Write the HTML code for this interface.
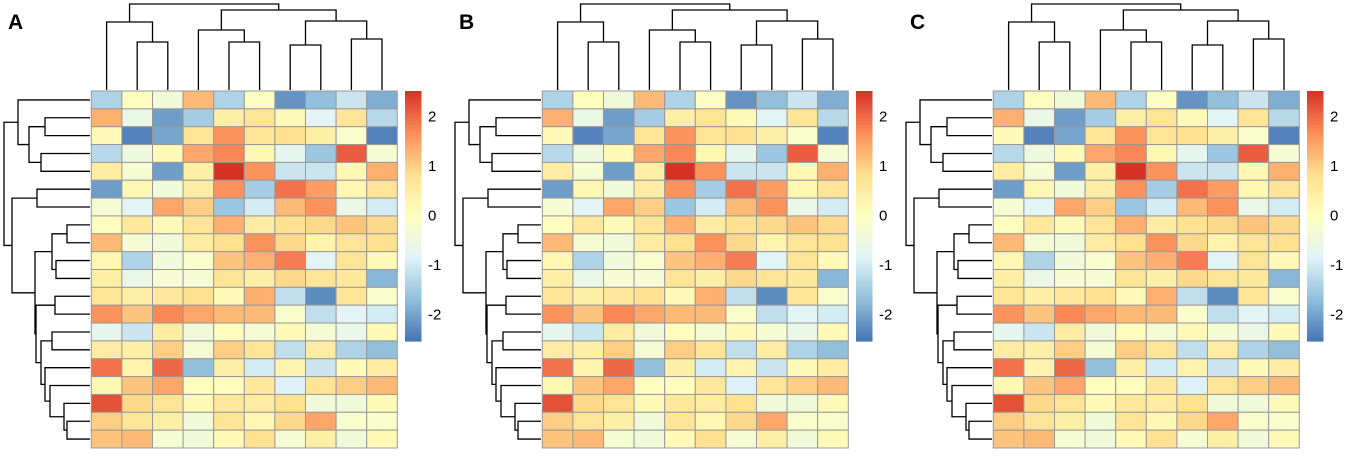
<!DOCTYPE html>
<html><head><meta charset="utf-8"><style>
html,body{margin:0;padding:0;background:#fff;width:1355px;height:457px;overflow:hidden}
svg{display:block;font-family:"Liberation Sans",Arial,sans-serif}
</style></head><body>
<svg id="chart" width="1355" height="457" viewBox="0 0 1355 457"></svg>
<script>
const values = [
[-1.4,0.0,-0.4,1.2,-1.4,-0.1,-2.2,-1.7,-1.1,-1.9],
[1.3,-0.6,-2.1,-1.5,0.4,0.7,0.1,-0.8,0.7,-1.3],
[0.1,-2.4,-2.0,0.7,1.6,0.7,0.8,0.4,-0.2,-2.4],
[-1.3,-0.5,0.1,1.4,1.7,0.2,-0.7,-1.6,2.1,-0.3],
[0.5,-0.3,-2.1,0.4,2.5,1.6,-1.1,-1.1,0.2,1.3],
[-2.1,0.2,-0.4,0.5,1.6,-1.5,1.9,1.5,0.2,0.7],
[-0.3,-0.8,1.4,1.0,-1.6,-1.0,1.2,1.6,-0.6,-1.0],
[0.0,0.6,0.1,0.7,1.3,0.5,0.8,0.9,1.1,0.9],
[1.2,-0.3,-0.4,0.5,0.8,1.6,0.9,0.3,0.7,0.8],
[0.2,-1.4,-0.4,-0.2,1.1,1.3,1.8,-0.8,0.7,0.1],
[0.4,-0.6,-0.3,-0.3,0.7,0.4,0.9,0.7,0.6,-1.8],
[0.7,0.4,0.6,0.8,0.1,1.3,-1.2,-2.3,0.7,-0.2],
[1.6,1.1,1.7,1.4,1.2,1.2,-0.2,-1.2,-0.8,-1.0],
[-0.7,-1.1,0.5,-0.4,0.0,-0.3,0.1,-0.3,-0.6,0.1],
[0.5,0.4,1.0,-0.3,1.0,0.7,-1.2,0.5,-1.4,-1.7],
[1.9,0.3,2.0,-1.7,0.4,-1.0,0.3,-1.1,0.1,0.5],
[0.2,1.1,1.4,0.0,0.0,0.6,-0.9,0.7,1.0,1.2],
[2.2,0.9,0.7,0.1,0.6,0.5,0.8,-0.4,-0.4,0.1],
[1.0,0.7,0.4,-0.4,0.7,0.2,0.9,1.4,-0.2,-0.2],
[1.1,1.2,-0.3,-0.4,0.1,0.8,-0.3,0.4,-0.4,0.1]
];
const panelLabels = ["A","B","C"];
const legendTicks = [2,1,0,-1,-2];
const vmin = -2.55, vmax = 2.5;
// dendrogram trees: [left, right, height]; leaves are indices
const colTree = [[0,[1,2,48],68],[[3,[4,5,48],60],[[6,7,45],[8,9,51],69],80],86];
const rowU = [17,[18,19,67],64];
const rowT = [16,rowU,50];
const rowS = [15,rowT,45];
const rowR = [[13,14,52],rowS,41];
const rowQ = [[11,12,55],rowR,36];
const rowP = [[7,8,67],[9,10,56],52];
const rowX = [rowP,rowQ,35];
const rowBottom = [[5,6,37],rowX,12];
const rowTop = [0,[[1,2,45],[3,4,41],29],18];
const rowTree = [rowTop,rowBottom,4];

const stops = ["#4575B4","#91BFDB","#E0F3F8","#FFFFBF","#FEE090","#FC8D59","#D73027"];
function hex(h){return [1,3,5].map(i=>parseInt(h.substr(i,2),16));}
function color(v){
  let t=(v-vmin)/(vmax-vmin)*(stops.length-1);
  t=Math.max(0,Math.min(stops.length-1,t));
  const i=Math.min(Math.floor(t),stops.length-2), f=t-i;
  const a=hex(stops[i]), b=hex(stops[i+1]);
  return "rgb("+a.map((x,k)=>Math.round(x+(b[k]-x)*f)).join(",")+")";
}
const NS="http://www.w3.org/2000/svg", svg=document.getElementById("chart");
function mk(tag,attrs,parent){const e=document.createElementNS(NS,tag);for(const k in attrs)e.setAttribute(k,attrs[k]);parent.appendChild(e);return e;}

const X0=91.3, Y0=91, CW=30.6, RH=17.85;
const xS=c=>X0+CW*(c+0.5), yS=r=>Y0+RH*(r+0.5);

panelLabels.forEach((lab,p)=>{
  const dx=451*p;
  const g=mk("g",{transform:"translate("+dx+",0)"},svg);
  
  
  const t=mk("text",{x:8,y:29,"font-size":21,"font-weight":"bold",fill:"#000"},g);
  t.textContent=lab;
  
  
  values.forEach((row,r)=>row.forEach((v,c)=>{
    const rc=mk("rect",{x:X0+CW*c,y:Y0+RH*r,width:CW,height:RH,fill:color(v),stroke:"#999","stroke-width":1},g);
    
    
  }));
  const cd=mk("g",{fill:"none",stroke:"#000","stroke-width":1.3},g);
  
  
  function colNode(n){
    if(typeof n==="number") return [xS(n),90];
    const a=colNode(n[0]), b=colNode(n[1]); const y=90-n[2];
    mk("path",{d:`M${a[0]},${a[1]}V${y}H${b[0]}V${b[1]}`},cd);
    return [(a[0]+b[0])/2,y];
  }
  colNode(colTree);
  const rd=mk("g",{fill:"none",stroke:"#000","stroke-width":1.3},g);
  
  
  function rowNode(n){
    if(typeof n==="number") return [90,yS(n)];
    const a=rowNode(n[0]), b=rowNode(n[1]); const x=n[2];
    mk("path",{d:`M${a[0]},${a[1]}H${x}V${b[1]}H${b[0]}`},rd);
    return [x,(a[1]+b[1])/2];
  }
  rowNode(rowTree);
  const lg=mk("g",{},g);
  
  
  const LT=91, LB=341, steps=100;
  for(let i=0;i<steps;i++){
    const v=vmax-(vmax-vmin)*(i+0.5)/steps;
    mk("rect",{x:405,y:LT+(LB-LT)*i/steps,width:16.5,height:(LB-LT)/steps+0.6,fill:color(v)},lg);
  }
  legendTicks.forEach(tv=>{
    const y=LT+(vmax-tv)/(vmax-vmin)*(LB-LT);
    const tt=mk("text",{x:428,y:y+5.5,"font-size":15,fill:"#000"},lg);
    tt.textContent=tv<0?"-"+Math.abs(tv):String(tv);
    
    
  });
});
</script>
</body></html>
